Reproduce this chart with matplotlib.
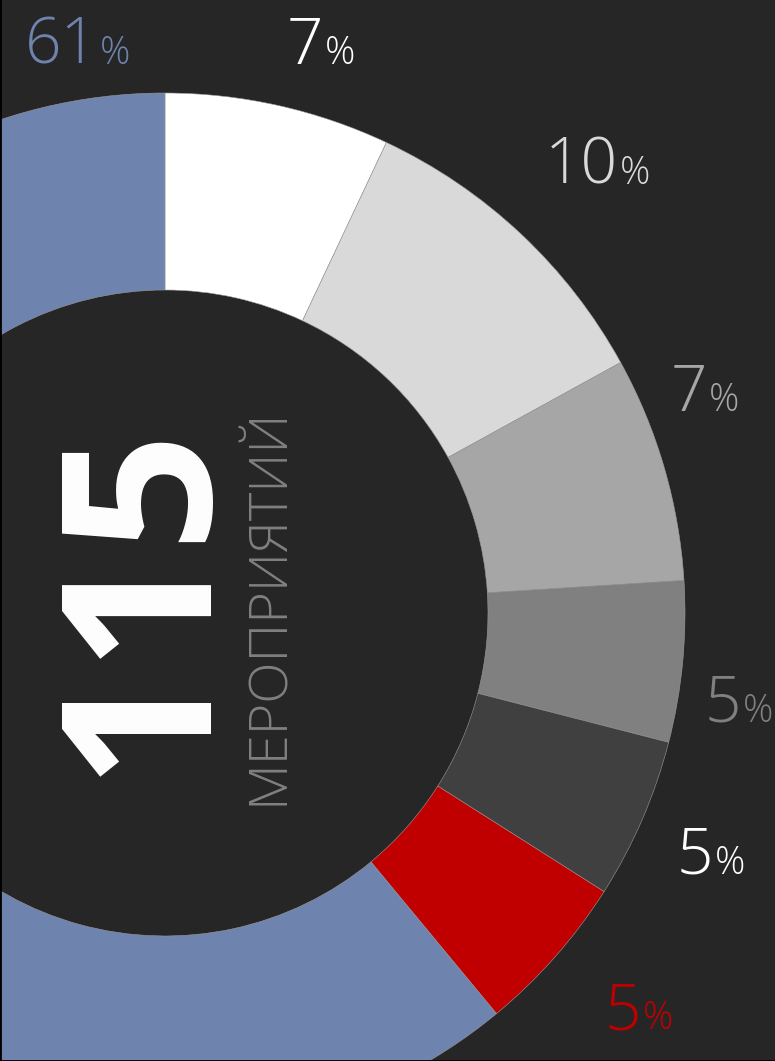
import matplotlib
matplotlib.use("Agg")
import matplotlib.pyplot as plt
from matplotlib import font_manager

# ---- data ----
shares = [7, 10, 7, 5, 5, 5, 61]
slice_colors = ["#FFFFFF", "#D9D9D9", "#A6A6A6", "#808080", "#404040", "#C00000", "#6F83AF"]
label_colors = ["#FFFFFF", "#D9D9D9", "#A6A6A6", "#808080", "#FFFFFF", "#C00000", "#6F83AF"]
total_events = "115"
total_caption = "МЕРОПРИЯТИЙ"

# ---- layout (pixel coords, y measured from top) ----
W, H = 775, 1061
center_px = (165, 613)
outer_r = 520
ring_w = 197
# split x (between number and %) and baseline y for each label
label_pos = [(323, 64), (618, 184), (707, 411), (741, 722), (713, 874), (641, 1029), (98, 64)]

BG = "#262626"
fams = [f.name for f in font_manager.fontManager.ttflist]
FONT = "Open Sans" if "Open Sans" in fams else "DejaVu Sans"

fig = plt.figure(figsize=(W / 100, H / 100), dpi=100, facecolor=BG)
ax = fig.add_axes([0, 0, 1, 1])
ax.set_facecolor(BG)

cx, cy = center_px[0], H - center_px[1]
ax.pie(shares, colors=slice_colors, startangle=90, counterclock=False,
       radius=outer_r, center=(cx, cy),
       wedgeprops=dict(width=ring_w, edgecolor="#9a9a9a", linewidth=0.4))
ax.set_xlim(0, W)
ax.set_ylim(0, H)
ax.set_aspect("equal")
ax.set_frame_on(True)
for s in ["top", "right"]:
    ax.spines[s].set_visible(False)
for s in ["left", "bottom"]:
    ax.spines[s].set_color("#000000")
    ax.spines[s].set_linewidth(2)
ax.set_xticks([])
ax.set_yticks([])

for v, col, (sx, by) in zip(shares, label_colors, label_pos):
    ax.text(sx, H - by, f"{v}", color=col, fontsize=46, family=FONT,
            weight="light", ha="right", va="baseline")
    ax.text(sx + 2, H - by, "%", color=col, fontsize=27, family=FONT,
            weight="light", ha="left", va="baseline")

ax.text(146, H - 598, total_events, color="#FFFFFF", fontsize=150, family=FONT,
        weight="bold", rotation=90, ha="center", va="center")
ax.text(269, H - 606, total_caption, color="#808080", fontsize=39, family=FONT,
        weight="light", rotation=90, ha="center", va="center")

fig.savefig("out.png", dpi=100, facecolor=BG)
